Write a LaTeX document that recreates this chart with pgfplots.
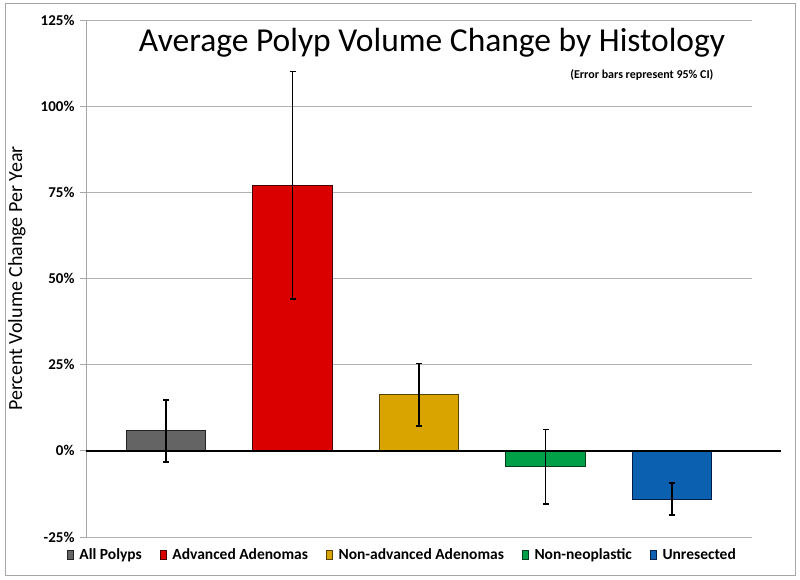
\documentclass[border=0pt]{standalone}
\usepackage{pgfplots}
\pgfplotsset{compat=1.18}
\usepackage{fontspec}
\setmainfont{Carlito}

\definecolor{polygray}{RGB}{100,100,100}
\definecolor{polygrayd}{RGB}{35,35,35}
\definecolor{advred}{RGB}{218,0,0}
\definecolor{advredd}{RGB}{70,0,0}
\definecolor{nagold}{RGB}{217,163,0}
\definecolor{nagoldd}{RGB}{85,65,0}
\definecolor{nngreen}{RGB}{0,160,72}
\definecolor{nngreend}{RGB}{0,60,25}
\definecolor{unblue}{RGB}{12,96,176}
\definecolor{unblued}{RGB}{0,30,70}

\begin{document}
\begin{tikzpicture}[x=1pt,y=1pt]
\useasboundingbox (0,0) rectangle (800,580);
\draw[gray!70, line width=0.8pt] (5,5) rectangle (795,577);

\begin{axis}[
  at={(86pt,43pt)}, anchor=south west,
  scale only axis,
  width=666pt, height=517pt,
  xmin=-0.6324, xmax=4.6324,
  ymin=-25, ymax=125,
  axis x line=none,
  axis y line*=left,
  y axis line style={gray!70, line width=0.8pt},
  ytick={-25,0,25,50,75,100,125},
  yticklabels={-25\%,0\%,25\%,50\%,75\%,100\%,125\%},
  yticklabel style={font=\fontsize{15}{15}\selectfont\bfseries, xshift=-2pt},
  tick align=outside,
  major tick length=6pt,
  ytick style={gray!70, line width=0.8pt},
  ymajorgrids,
  grid style={gray!60, line width=0.8pt},
  ylabel={Percent Volume Change Per Year},
  ylabel style={font=\fontsize{20}{20}\selectfont, at={(axis description cs:-0.1036,0.5)}, anchor=center},
  ybar, bar shift=0pt, bar width=0.632,
  clip=false,
  error bars/y dir=both, error bars/y explicit,
  error bars/error mark=|,
  error bars/error bar style={black, line width=1.5pt},
  error bars/error mark options={black, line width=1.5pt, mark size=3pt},
  legend columns=5,
  legend style={at={(axis description cs:0.475,-0.0348)}, anchor=center,
    draw=none, fill=none, font=\fontsize{15.5}{15.5}\selectfont\bfseries,
    /tikz/every odd column/.append style={column sep=4pt},
    /tikz/every even column/.append style={column sep=16pt}},
  legend image code/.code={\draw[#1, line width=0.6pt] (0pt,-4.5pt) rectangle (6pt,4.5pt);},
]
\addplot[fill=polygray, draw=polygrayd, line width=1pt] coordinates {(0,5.8) +- (0,9.0)};
\addlegendentry{All Polyps}
\addplot[fill=advred, draw=advredd, line width=1pt] coordinates {(1,77) +- (0,33)};
\addlegendentry{Advanced Adenomas}
\addplot[fill=nagold, draw=nagoldd, line width=1pt] coordinates {(2,16.3) +- (0,9.1)};
\addlegendentry{Non-advanced Adenomas}
\addplot[fill=nngreen, draw=nngreend, line width=1pt] coordinates {(3,-4.6) +- (0,10.8)};
\addlegendentry{Non-neoplastic}
\addplot[fill=unblue, draw=unblued, line width=1pt] coordinates {(4,-14) +- (0,4.6)};
\addlegendentry{Unresected}
\draw[black, line width=2pt] (axis cs:-0.6324,0) -- (axis cs:4.862,0);
\end{axis}

\node[font=\fontsize{33.5}{33.5}\selectfont] at (432,537) {Average Polyp Volume Change by Histology};
\node[font=\fontsize{12}{12}\selectfont\bfseries, anchor=east] at (717,505) {(Error bars represent 95\% CI)};
\end{tikzpicture}
\end{document}
